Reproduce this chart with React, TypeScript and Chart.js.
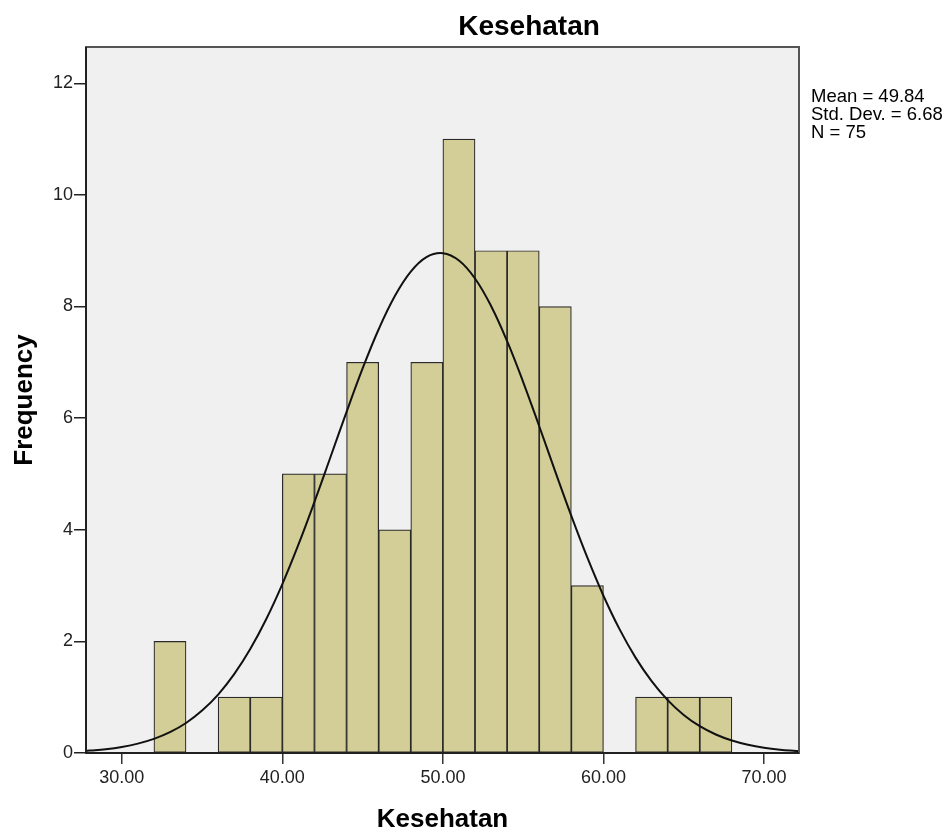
import React, { useEffect, useRef } from "react";
import { Chart, registerables } from "chart.js";

Chart.register(...registerables);

// Histogram bins (centres) and frequencies
const binCenters = [33, 37, 39, 41, 43, 45, 47, 49, 51, 53, 55, 57, 59, 63, 65, 67];
const frequencies = [2, 1, 1, 5, 5, 7, 4, 7, 11, 9, 9, 8, 3, 1, 1, 1];

// Normal curve (Mean 49.84, SD 6.68, N 75, bin width 2), values read at these x positions
const curveX = [27.77, 28, 29, 30, 31, 32, 33, 34, 35, 36, 37, 38, 39, 40, 41, 42, 43, 44, 45, 46, 47, 48, 49, 50, 51, 52, 53, 54, 55, 56, 57, 58, 59, 60, 61, 62, 63, 64, 65, 66, 67, 68, 69, 70, 71, 72, 72.18];
const curveY = [0.038, 0.043, 0.069, 0.109, 0.168, 0.253, 0.373, 0.538, 0.760, 1.047, 1.413, 1.862, 2.401, 3.027, 3.732, 4.499, 5.303, 6.113, 6.890, 7.593, 8.184, 8.625, 8.888, 8.955, 8.824, 8.502, 8.010, 7.379, 6.647, 5.855, 5.043, 4.248, 3.499, 2.818, 2.219, 1.709, 1.287, 0.948, 0.682, 0.480, 0.331, 0.223, 0.147, 0.094, 0.059, 0.037, 0.033];

const xTickValues = [30, 40, 50, 60, 70];
const yTickValues = [0, 2, 4, 6, 8, 10, 12];
const statsLines = ["Mean = 49.84", "Std. Dev. = 6.68", "N = 75"];
const chartTitle = "Kesehatan";
const xTitle = "Kesehatan";
const yTitle = "Frequency";

const FONT = "Arial, 'Liberation Sans', sans-serif";

const decorPlugin = {
  id: "decor",
  beforeDatasetsDraw(chart: any) {
    const { ctx, chartArea: a } = chart;
    ctx.save();
    ctx.fillStyle = "#f0f0f0";
    ctx.fillRect(a.left, a.top, a.right - a.left, a.bottom - a.top);
    ctx.restore();
  },
  afterDraw(chart: any) {
    const { ctx, chartArea: a } = chart;
    ctx.save();
    // frame
    ctx.strokeStyle = "#555555";
    ctx.lineWidth = 2;
    ctx.strokeRect(a.left, a.top, a.right - a.left, a.bottom - a.top);
    ctx.strokeStyle = "#111111";
    ctx.lineWidth = 1.5;
    ctx.beginPath();
    ctx.moveTo(a.left, a.top);
    ctx.lineTo(a.left, a.bottom);
    ctx.lineTo(a.right, a.bottom);
    ctx.stroke();
    // title
    ctx.fillStyle = "#000";
    ctx.textAlign = "center";
    ctx.textBaseline = "alphabetic";
    ctx.font = `bold 28px ${FONT}`;
    ctx.fillText(chartTitle, 529, 35);
    // x title
    ctx.font = `bold 26px ${FONT}`;
    ctx.fillText(xTitle, (a.left + a.right) / 2, 827);
    // y title
    ctx.save();
    ctx.translate(32, (a.top + a.bottom) / 2);
    ctx.rotate(-Math.PI / 2);
    ctx.fillText(yTitle, 0, 0);
    ctx.restore();
    // stats
    ctx.textAlign = "left";
    ctx.font = `18.5px ${FONT}`;
    statsLines.forEach((s, i) => ctx.fillText(s, 811, 102 + i * 18));
    ctx.restore();
  },
};

export default function App() {
  const ref = useRef<HTMLCanvasElement>(null);
  useEffect(() => {
    if (!ref.current) return;
    const chart = new Chart(ref.current, {
      type: "bar",
      data: {
        datasets: [
          {
            type: "line",
            data: curveX.map((x, i) => ({ x, y: curveY[i] })),
            borderColor: "#111111",
            borderWidth: 2,
            pointRadius: 0,
            tension: 0.4,
            fill: false,
            order: 0,
          } as any,
          {
            type: "bar",
            data: binCenters.map((x, i) => ({ x, y: frequencies[i] })),
            backgroundColor: "#d3ce97",
            borderColor: "#2a2a2a",
            borderWidth: 1.2,
            borderSkipped: false,
            barPercentage: 1,
            categoryPercentage: 1,
            order: 1,
          } as any,
        ],
      },
      options: {
        animation: false,
        responsive: false,
        maintainAspectRatio: false,
        layout: { padding: { left: 0, right: 151, top: 47, bottom: 0 } },
        plugins: { legend: { display: false }, tooltip: { enabled: false }, title: { display: false } },
        scales: {
          x: {
            type: "linear",
            min: 27.77,
            max: 72.18,
            offset: false,
            grid: { display: true, drawOnChartArea: false, drawTicks: true, tickLength: 11, tickColor: "#333", offset: false, lineWidth: 1.5 },
            border: { display: false },
            afterBuildTicks: (scale: any) => {
              scale.ticks = xTickValues.map((v) => ({ value: v }));
            },
            afterFit: (scale: any) => {
              scale.height = 84;
            },
            ticks: {
              color: "#222",
              font: { size: 18, family: FONT },
              padding: 3,
              maxRotation: 0,
              autoSkip: false,
              callback: (v: any) => Number(v).toFixed(2),
            },
          },
          y: {
            type: "linear",
            min: 0,
            max: 12.65,
            grid: { display: true, drawOnChartArea: false, drawTicks: true, tickLength: 12, tickColor: "#222", lineWidth: 1.5 },
            border: { display: false },
            afterBuildTicks: (scale: any) => {
              scale.ticks = yTickValues.map((v) => ({ value: v }));
            },
            afterFit: (scale: any) => {
              scale.width = 86;
            },
            ticks: {
              color: "#222",
              font: { size: 18, family: FONT },
              padding: 1,
              autoSkip: false,
              callback: (v: any) => String(v),
            },
          },
        },
      },
      plugins: [decorPlugin],
    });
    return () => chart.destroy();
  }, []);
  return (
    <div style={{ position: "absolute", left: 0, top: 0, width: 950, height: 837, background: "#fff" }}>
      <canvas ref={ref} width={950} height={837} style={{ width: 950, height: 837 }} />
    </div>
  );
}
